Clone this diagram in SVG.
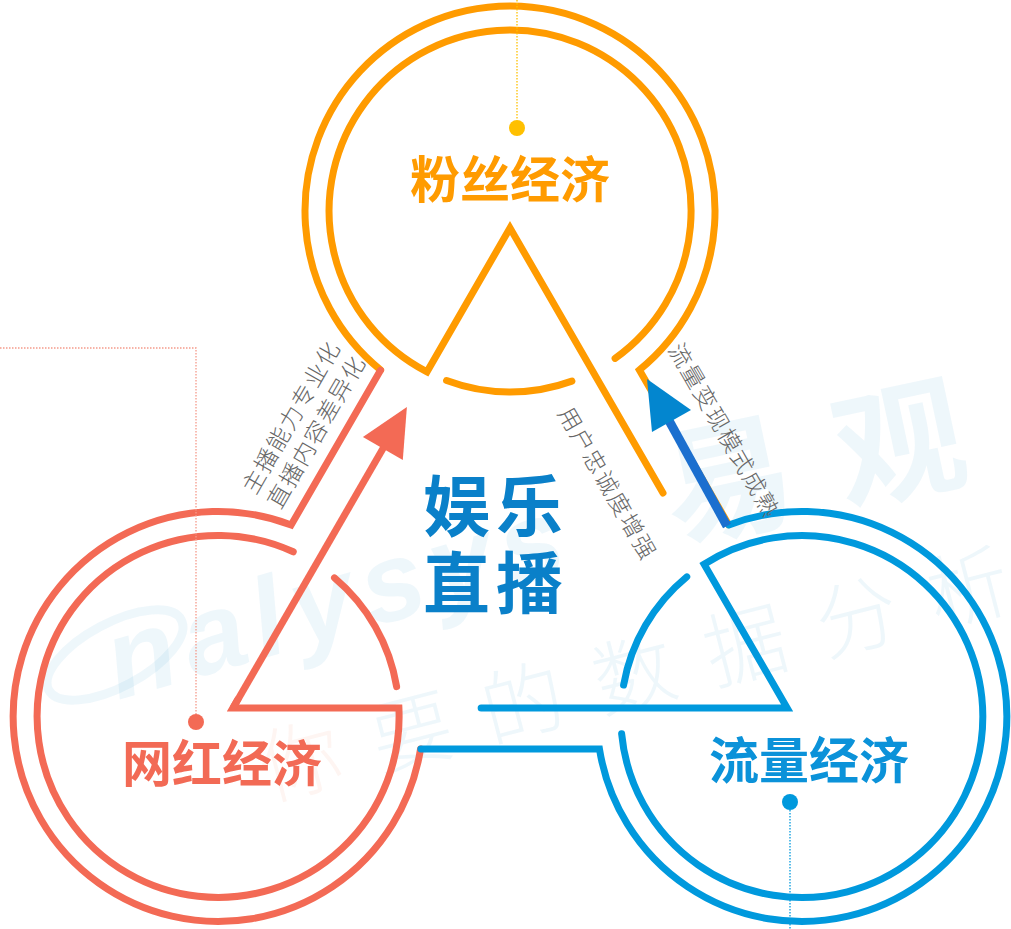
<svg xmlns="http://www.w3.org/2000/svg" width="1011" height="929" viewBox="0 0 1011 929">
<style>
.ring{fill:none;stroke-width:7;stroke-linecap:round;stroke-linejoin:miter}
.lbl{font-family:"Noto Sans CJK SC","Noto Sans",sans-serif;font-weight:300;font-size:23px;fill:#666666;letter-spacing:1.6px}
.title{font-family:"Noto Sans CJK SC","Noto Sans",sans-serif;font-weight:700;font-size:50px;text-anchor:middle}
.center{font-family:"Noto Sans CJK SC","Noto Sans",sans-serif;font-weight:700;font-size:67px;letter-spacing:6px;fill:#0A80C9}
.lead{fill:none;stroke-width:1.3;stroke-dasharray:1.5 1.5}
.wm{fill:#0082C8;fill-opacity:0.065}
</style>
<rect width="1011" height="929" fill="#ffffff"/>

<g id="watermark">
  <ellipse cx="115" cy="655" rx="75" ry="32" transform="rotate(-28 115 655)" fill="none" stroke="#0082C8" stroke-opacity="0.065" stroke-width="9"/>
  <text class="wm" transform="translate(118,700) rotate(-16)" font-family="Liberation Sans, sans-serif" font-weight="700" font-style="italic" font-size="112" letter-spacing="10">nalysys</text>
  <text class="wm" transform="translate(674,540) rotate(-12)" font-family="Noto Sans CJK SC, sans-serif" font-weight="700" font-size="130" letter-spacing="45">易观</text>
  <text class="wm" transform="translate(268,800) rotate(-14.5)" font-family="Noto Sans CJK SC, sans-serif" font-weight="300" font-size="82" letter-spacing="33"><tspan fill="#F07040">你</tspan>要的数据分析</text>
</g>

<g id="node-fans">
  <g class="ring" stroke="#FF9B00">
    <path d="M663,493 L510,228 L427,371.8 A181,181 0 1 1 615.1,358.4"/>
    <path d="M571.9,381.1 A181,181 0 0 1 446.6,380.5"/>
    <path d="M380.6,370 A205,205 0 1 1 639.4,370 L728.6,524.7"/>
  </g>
  <path class="lead" stroke="#FFC000" d="M517,0 V120"/>
  <circle cx="517" cy="128" r="8" fill="#FFC000"/>
  <text class="title" x="510" y="198" fill="#FF9B00">粉丝经济</text>
</g>

<g id="node-wanghong">
  <g class="ring" stroke="#F36A55" transform="rotate(-120 510 548)">
    <path d="M515,236.7 L510,228 L427,371.8 A181,181 0 1 1 615.1,358.4"/>
    <path d="M571.9,381.1 A181,181 0 0 1 446.6,380.5"/>
    <path d="M380.6,370 A205,205 0 1 1 639.4,370 L728.6,524.7"/>
  </g>
  <path class="lead" stroke="#F59A8A" d="M0,348 H196 V714"/>
  <circle cx="196" cy="722" r="8" fill="#F36A55"/>
  <text class="title" x="222" y="782" fill="#F26A55">网红经济</text>
</g>

<g id="node-liuliang">
  <g class="ring" stroke="#0099DD" transform="rotate(120 510 548)">
    <path d="M663,493 L510,228 L427,371.8 A181,181 0 1 1 615.1,358.4"/>
    <path d="M571.9,381.1 A181,181 0 0 1 446.6,380.5"/>
    <path d="M380.6,370 A205,205 0 1 1 639.4,370 L728.6,524.7"/>
  </g>
  <path class="lead" stroke="#0099DD" d="M790,810 V929"/>
  <circle cx="790" cy="802" r="8" fill="#0099DD"/>
  <text class="title" x="809" y="779" fill="#0B92D9">流量经济</text>
</g>

<g id="node-center">
  <text class="center" x="423" y="531">娱乐</text>
  <text class="center" x="423" y="608">直播</text>
</g>

<g id="connectors">
  <path d="M233,708 L385,445" stroke="#F36A55" stroke-width="7" fill="none"/>
  <polygon points="406.9,406.9 402.8,460 362.9,437" fill="#F36A55"/>
  <path d="M727,526 L667,417" stroke="#1B6FCF" stroke-width="9" fill="none"/>
  <polygon points="647,379 691,410 652,432" fill="#0386CF"/>
  <text class="lbl" transform="translate(255.5,495.8) rotate(-60)"><tspan x="0" y="0">主播能力专业化</tspan><tspan x="0" y="29">直播内容差异化</tspan></text>
  <text class="lbl" transform="translate(557.2,413.2) rotate(60)">用户忠诚度增强</text>
  <text class="lbl" transform="translate(667.6,349.5) rotate(60)">流量变现模式成熟</text>
</g>
</svg>
